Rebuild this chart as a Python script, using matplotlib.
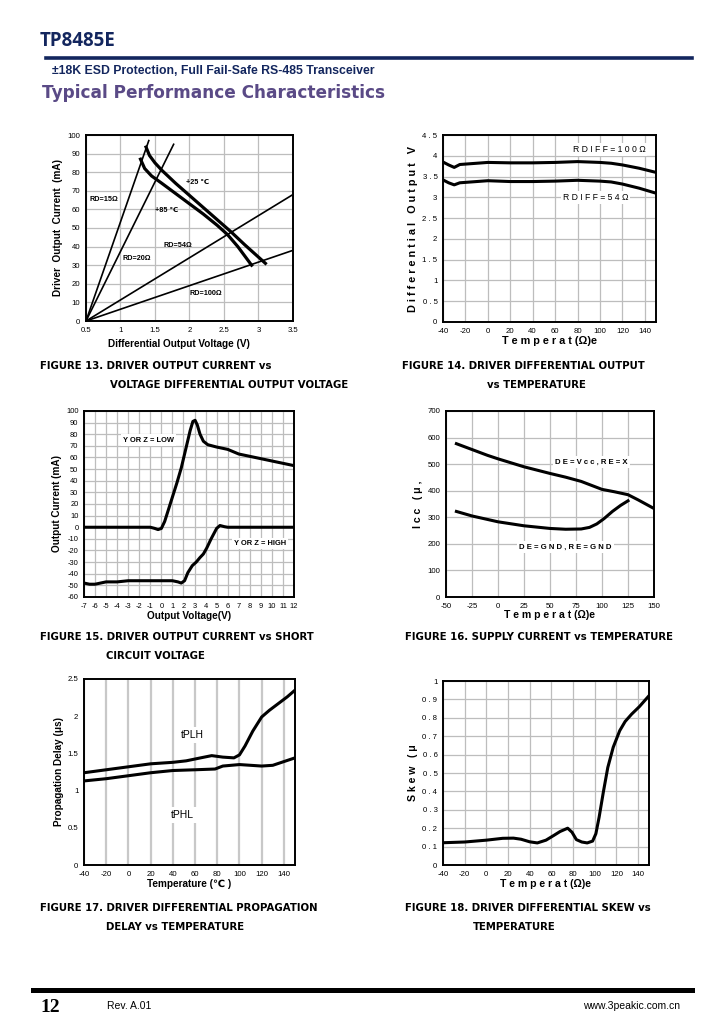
import matplotlib

matplotlib.use("Agg")
import matplotlib.pyplot as plt
from matplotlib.lines import Line2D

W, H = 727, 1034
NAVY = "#13265e"
GRID = "#bdbdbd"
SANS = ["Liberation Sans", "DejaVu Sans"]

# ---- Fig 13: driver output current vs differential output voltage ----
rd15_v, rd15_i = [0.5, 1.41], [0, 97]
rd20_v, rd20_i = [0.5, 1.77], [0, 95]
rd54_v, rd54_i = [0.5, 3.5], [0, 68]
rd100_v, rd100_i = [0.5, 3.5], [0, 38]
t25_v = [1.37, 1.42, 1.5, 1.6, 1.8, 2.0, 2.2, 2.4, 2.6, 2.8, 2.95, 3.1]
t25_i = [93.5, 89, 85, 81, 74, 67.5, 61, 54.5, 48, 41, 36, 31]
t85_v = [1.29, 1.35, 1.45, 1.6, 1.8, 2.0, 2.2, 2.4, 2.55, 2.7, 2.8, 2.9]
t85_i = [87, 82, 78, 74, 68.5, 63, 57.5, 51.5, 46.5, 40, 35, 30]

# ---- Fig 14: differential output vs temperature ----
f14_t = [-40, -35, -30, -25, -10, 0, 20, 40, 60, 80, 100, 110, 120, 135, 150]
f14_100 = [3.85, 3.78, 3.72, 3.79, 3.82, 3.84, 3.83, 3.83, 3.84, 3.86, 3.84, 3.82, 3.78, 3.7, 3.6]
f14_54 = [3.42, 3.35, 3.3, 3.35, 3.38, 3.4, 3.38, 3.38, 3.39, 3.41, 3.39, 3.37, 3.32, 3.22, 3.1]

# ---- Fig 15: driver output current vs short circuit voltage ----
low_v = [-7, -1, -0.6, -0.3, 0, 0.3, 0.6, 1, 1.4, 1.8, 2.2, 2.6, 2.85, 3.05, 3.25, 3.5,
         3.8, 4.2, 4.6, 5, 5.5, 6, 6.5, 7, 8, 9, 10, 11, 12]
low_i = [0, 0, -1, -2, -1, 5, 14, 26, 38, 51, 67, 83, 91, 92, 88, 80,
         74, 71, 70, 69, 68, 67, 65, 63, 61, 59, 57, 55, 53]
high_v = [-7, -6.5, -6, -5, -4, -3, -2, -1, 0, 1, 1.5, 1.8, 2.1, 2.4, 2.8, 3.15, 3.5,
          3.8, 4.1, 4.5, 5.0, 5.3, 5.7, 6, 12]
high_i = [-48, -49, -49, -47, -47, -46, -46, -46, -46, -46, -47, -48, -46, -39, -33, -30, -26,
          -23, -18, -10, -1, 1.5, 0.5, 0, 0]

# ---- Fig 16: supply current vs temperature ----
icc_t1 = [-40, -25, -10, 0, 25, 50, 65, 80, 90, 100, 112, 125, 135, 150]
icc_1 = [577, 555, 533, 520, 490, 465, 451, 435, 420, 405, 396, 385, 365, 333]
icc_t2 = [-40, -25, 0, 25, 50, 65, 80, 88, 95, 102, 110, 118, 125]
icc_2 = [322, 305, 283, 268, 258, 255, 256, 262, 275, 295, 322, 345, 362]

# ---- Fig 17: propagation delay vs temperature ----
pd_t1 = [-40, -20, 0, 20, 40, 52, 65, 75, 85, 95, 100, 105, 112, 120, 127, 135, 143, 150]
tplh = [1.24, 1.28, 1.32, 1.36, 1.38, 1.4, 1.44, 1.47, 1.45, 1.44, 1.48, 1.6, 1.8, 1.99, 2.08, 2.17, 2.26, 2.35]
pd_t2 = [-40, -20, 0, 20, 40, 60, 78, 85, 100, 110, 120, 130, 140, 150]
tphl = [1.13, 1.16, 1.2, 1.24, 1.27, 1.28, 1.29, 1.33, 1.35, 1.34, 1.33, 1.34, 1.39, 1.44]

# ---- Fig 18: differential skew vs temperature ----
sk_t = [-40, -20, 0, 15, 25, 32, 40, 47, 55, 62, 68, 75, 79, 83, 88, 93, 98, 101, 104,
        108, 112, 117, 123, 128, 134, 141, 150]
skew = [0.121, 0.125, 0.135, 0.145, 0.146, 0.14, 0.126, 0.12, 0.135, 0.16, 0.182, 0.2, 0.178,
        0.138, 0.125, 0.12, 0.13, 0.17, 0.26, 0.4, 0.53, 0.64, 0.73, 0.78, 0.82, 0.86, 0.92]

fig = plt.figure(figsize=(W / 100, H / 100), dpi=100)


def px_axes(l, t, r, b):
    return fig.add_axes([l / W, 1 - b / H, (r - l) / W, (b - t) / H])


def ftext(x, y, s, **kw):
    fig.text(x / W, 1 - y / H, s, **kw)


def spaced(s):
    return " ".join(s)


def style(ax, xlim, ylim, xt, yt, xlab, ylab, xfmt=str, yfmt=str, vgrid=True, hgrid=True,
          tick_fs=5.6, lab_fs=7.2):
    ax.set_xlim(*xlim)
    ax.set_ylim(*ylim)
    ax.set_xticks(xt)
    ax.set_yticks(yt)
    ax.set_xticklabels([xfmt(v) for v in xt], fontsize=tick_fs, family=SANS)
    ax.set_yticklabels([yfmt(v) for v in yt], fontsize=tick_fs, family=SANS)
    ax.tick_params(length=0, pad=4)
    for s in ax.spines.values():
        s.set_linewidth(1.4)
        s.set_color("black")
    if vgrid:
        ax.xaxis.grid(True, color=GRID, lw=0.9)
    if hgrid:
        ax.yaxis.grid(True, color=GRID, lw=0.9)
    ax.set_axisbelow(True)
    ax.set_xlabel(xlab, fontsize=lab_fs, fontweight="bold", family=SANS, labelpad=1)
    ax.set_ylabel(ylab, fontsize=lab_fs, fontweight="bold", family=SANS, labelpad=3)


def num(v):
    return f"{v:g}"


def spnum(v):
    return spaced(f"{v:g}")


# --- Fig 13 ---
ax = px_axes(86, 135, 293, 321)
style(ax, (0.5, 3.5), (0, 100), [0.5, 1, 1.5, 2, 2.5, 3, 3.5], list(range(0, 101, 10)),
      "Differential Output Voltage (V)", "Driver  Output  Current  (mA)", xfmt=num)
ax.xaxis.set_label_coords(0.45, -0.095)
for xv, yv in [(rd15_v, rd15_i), (rd20_v, rd20_i), (rd54_v, rd54_i), (rd100_v, rd100_i)]:
    ax.plot(xv, yv, color="black", lw=1.2)
ax.plot(t25_v, t25_i, color="black", lw=2.3)
ax.plot(t85_v, t85_i, color="black", lw=2.3)
lab = dict(fontsize=5.2, fontweight="bold", family=SANS, va="center")
ax.text(1.95, 74.5, "+25 ℃", **lab)
ax.text(1.5, 59.5, "+85 ℃", **lab)
ax.text(0.55, 65.5, "RD=15Ω", **lab)
ax.text(1.03, 33.5, "RD=20Ω", **lab)
ax.text(1.63, 40.5, "RD=54Ω", **lab)
ax.text(2.0, 15, "RD=100Ω", **lab)

# --- Fig 14 ---
ax = px_axes(443, 135, 656, 322)
style(ax, (-40, 150), (0, 4.5), list(range(-40, 141, 20)), [i * 0.5 for i in range(10)],
      spaced("Temperat") + " (Ω)e", spaced("Differential") + "   " + spaced("Output") + "   V",
      yfmt=spnum, lab_fs=7.8)
ax.plot(f14_t, f14_100, color="black", lw=2.2)
ax.plot(f14_t, f14_54, color="black", lw=2.2)
box = dict(fc="white", ec="none", pad=1.5)
ax.text(108, 4.15, spaced("RDIFF=100Ω"), fontsize=6.2, family=SANS, ha="center", va="center", bbox=box)
ax.text(96, 3.0, spaced("RDIFF=54Ω"), fontsize=6.2, family=SANS, ha="center", va="center", bbox=box)

# --- Fig 15 ---
ax = px_axes(84, 411, 294, 597)
style(ax, (-7, 12), (-60, 100), list(range(-7, 13)), list(range(-60, 101, 10)),
      "Output Voltage(V)", "Output Current (mA)", tick_fs=5.4)
ax.plot(low_v, low_i, color="black", lw=2.2)
ax.plot(high_v, high_i, color="black", lw=2.2)
ax.text(-1.2, 75, "Y OR Z = LOW", fontsize=5.4, fontweight="bold", family=SANS,
        ha="center", va="center", bbox=box)
ax.text(8.9, -14, "Y OR Z = HIGH", fontsize=5.4, fontweight="bold", family=SANS,
        ha="center", va="center", bbox=box)

# --- Fig 16 ---
ax = px_axes(446, 411, 654, 597)
style(ax, (-50, 150), (0, 700), list(range(-50, 151, 25)), list(range(0, 701, 100)),
      spaced("Temperat") + " (Ω)e", spaced("Icc") + "   ( μ ,", lab_fs=7.6)
ax.xaxis.labelpad = 0
ax.plot(icc_t1, icc_1, color="black", lw=2.2)
ax.plot(icc_t2, icc_2, color="black", lw=2.2)
ax.text(90, 508, spaced("DE=Vcc,RE=X"), fontsize=5.6, fontweight="bold", family=SANS,
        ha="center", va="center", bbox=box)
ax.text(65, 188, spaced("DE=GND,RE=GND"), fontsize=5.6, fontweight="bold", family=SANS,
        ha="center", va="center", bbox=box)

# --- Fig 17 ---
ax = px_axes(84, 679, 295, 865)
style(ax, (-40, 150), (0, 2.5), list(range(-40, 141, 20)), [0, 0.5, 1, 1.5, 2, 2.5],
      "Temperature (℃ )", "Propagation Delay (μs)", yfmt=num, hgrid=False)
ax.xaxis.grid(True, color="#c8c8c8", lw=1.6)
ax.plot(pd_t1, tplh, color="black", lw=2.2)
ax.plot(pd_t2, tphl, color="black", lw=2.2)
ax.text(58, 1.75, "tPLH", fontsize=7.5, family=SANS, ha="center", va="center",
        bbox=dict(fc="white", ec="none", pad=2))
ax.text(49, 0.67, "tPHL", fontsize=7.5, family=SANS, ha="center", va="center",
        bbox=dict(fc="white", ec="none", pad=2))

# --- Fig 18 ---
ax = px_axes(443, 681, 649, 865)
style(ax, (-40, 150), (0, 1), list(range(-40, 141, 20)), [i / 10 for i in range(11)],
      spaced("Temperat") + " (Ω)e", spaced("Skew") + "   ( μ", yfmt=spnum, lab_fs=7.6)
ax.plot(sk_t, skew, color="black", lw=2.2)

# ---- page furniture ----
ftext(40, 41, "TP8485E", fontsize=13.5, fontweight="bold", color=NAVY, family="Open Sans",
      va="center")
fig.add_artist(Line2D([46 / W, 692 / W], [1 - 58 / H] * 2, color=NAVY, lw=2.6))
ftext(52, 71, "±18K ESD Protection, Full Fail-Safe RS-485 Transceiver", fontsize=8.8,
      fontweight="bold", color=NAVY, family=SANS, va="center")
ftext(42, 93, "Typical Performance Characteristics", fontsize=12.2, fontweight="bold",
      color="#5a4a86", family="DejaVu Sans", va="center")

cap = dict(fontsize=7.3, fontweight="bold", family="DejaVu Sans", va="center")
ftext(40, 366, "FIGURE 13. DRIVER OUTPUT CURRENT vs", **cap)
ftext(110, 385, "VOLTAGE DIFFERENTIAL OUTPUT VOLTAGE", **cap)
ftext(402, 366, "FIGURE 14. DRIVER DIFFERENTIAL OUTPUT", **cap)
ftext(487, 385, "vs TEMPERATURE", **cap)
ftext(40, 637, "FIGURE 15. DRIVER OUTPUT CURRENT vs SHORT", **cap)
ftext(106, 656, "CIRCUIT VOLTAGE", **cap)
ftext(405, 637, "FIGURE 16. SUPPLY CURRENT vs TEMPERATURE", **cap)
ftext(40, 908, "FIGURE 17. DRIVER DIFFERENTIAL PROPAGATION", **cap)
ftext(106, 927, "DELAY vs TEMPERATURE", **cap)
ftext(405, 908, "FIGURE 18. DRIVER DIFFERENTIAL SKEW vs", **cap)
ftext(473, 927, "TEMPERATURE", **cap)

fig.add_artist(Line2D([33 / W, 692 / W], [1 - 990 / H] * 2, color="black", lw=3.6))
ftext(40, 1008, "12", fontsize=14, fontweight="bold", family="Liberation Serif", va="center")
ftext(107, 1006, "Rev. A.01", fontsize=7.5, family=SANS, va="center")
ftext(680, 1006, "www.3peakic.com.cn", fontsize=7.5, family=SANS, va="center", ha="right")

fig.savefig("out.png", dpi=100)
